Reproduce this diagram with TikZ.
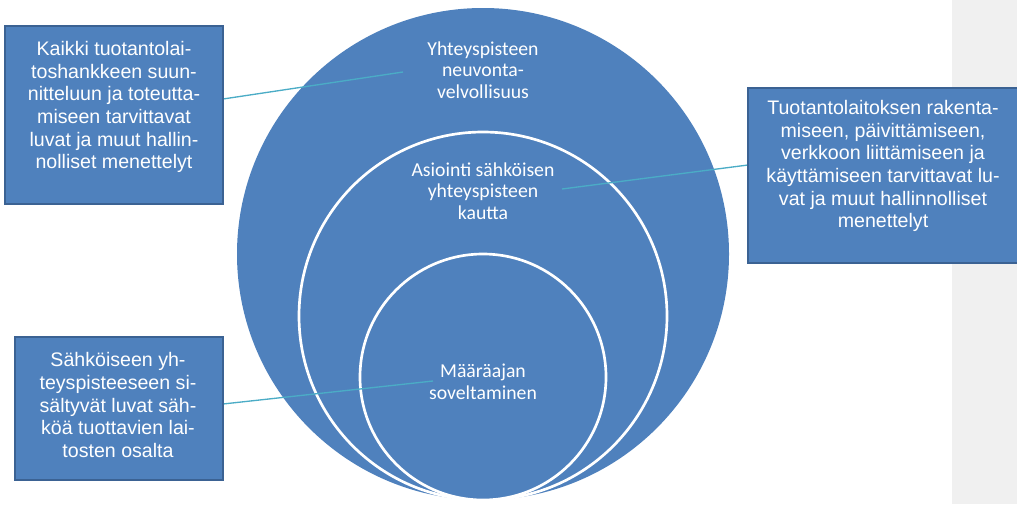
\documentclass[tikz,border=0pt]{standalone}
\usepackage{fontspec}
\setmainfont{Liberation Sans}
\newfontfamily\calib{Carlito}
\definecolor{fillblue}{HTML}{4F81BD}
\definecolor{edgeblue}{HTML}{3B6293}
\definecolor{teal}{HTML}{4BACC6}
\definecolor{panelgrey}{HTML}{F0F0F0}
\begin{document}
\begin{tikzpicture}[x=0.75pt,y=-0.75pt,
  boxshape/.style={draw=edgeblue,line width=2pt,fill=fillblue,rectangle,inner sep=0pt},
  boxtext/.style={text=white,align=center,font=\fontsize{14.7}{17}\selectfont,inner sep=0pt},
  circtext/.style={text=white,align=center,font=\calib\fontsize{14.8}{16.2}\selectfont,inner sep=0pt},
  ring/.style={circle,fill=fillblue,inner sep=0pt},
  conn/.style={draw=teal,line width=1pt}]
\useasboundingbox (0,0) rectangle (1017,504);
\fill[panelgrey] (952,0) rectangle (1017,504);
% circles
\node[ring,minimum size=492*0.75pt] (outer) at (483,254) {};
\node[ring,draw=white,line width=2pt,minimum size=368*0.75pt] (middle) at (483,316) {};
\node[ring,draw=white,line width=2pt,minimum size=246*0.75pt] (inner) at (483,377) {};
% circle texts
\node[circtext] (ot) at (483,70) {Yhteyspisteen\\neuvonta-\\velvollisuus};
\node[circtext] (mt) at (483,191) {Asiointi sähköisen\\yhteyspisteen\\kautta};
\node[circtext] (it) at (483,382) {Määräajan\\soveltaminen};
% connector ends
\coordinate (e1) at (403,72);
\coordinate (e2) at (562,189);
\coordinate (e3) at (433,381);
\coordinate (s1) at (223,99);
\coordinate (s2) at (748,165);
\coordinate (s3) at (223,404);
\draw[conn] (s1) -- (e1);
\draw[conn] (s2) -- (e2);
\draw[conn] (s3) -- (e3);
% boxes
\node[boxshape,minimum width=218*0.75pt,minimum height=178*0.75pt] (b1) at (114,115) {};
\node[boxshape,minimum width=272*0.75pt,minimum height=175*0.75pt] (b2) at (884,175.5) {};
\node[boxshape,minimum width=208*0.75pt,minimum height=143*0.75pt] (b3) at (119,408.5) {};
\node[boxtext] (t1) at (114,107) {Kaikki tuotantolai-\\toshankkeen suun-\\nitteluun ja toteutta-\\miseen tarvittavat\\luvat ja muut hallin-\\nolliset menettelyt};
\node[boxtext] (t2) at (883,166) {Tuotantolaitoksen rakenta-\\miseen, päivittämiseen,\\verkkoon liittämiseen ja\\käyttämiseen tarvittavat lu-\\vat ja muut hallinnolliset\\menettelyt};
\node[boxtext] (t3) at (118,405) {Sähköiseen yh-\\teyspisteeseen si-\\sältyvät luvat säh-\\köä tuottavien lai-\\tosten osalta};
\end{tikzpicture}
\end{document}
